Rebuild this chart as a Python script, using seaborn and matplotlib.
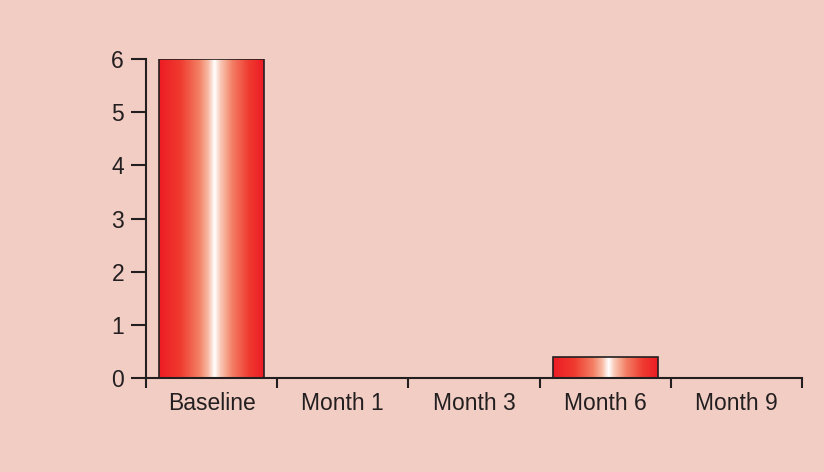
import numpy as np
import pandas as pd
import matplotlib
matplotlib.use("Agg")
import matplotlib.pyplot as plt
import seaborn as sns
from matplotlib.colors import LinearSegmentedColormap
from matplotlib.ticker import FixedLocator

# data
visits = ["Baseline", "Month 1", "Month 3", "Month 6", "Month 9"]
counts = [6, 0, 0, 0.4, 0]
yticks = [0, 1, 2, 3, 4, 5, 6]

bg = "#F2CDC3"
ink = "#231F20"

sns.set_theme(style="white")
plt.rcParams["font.family"] = ["Liberation Sans", "DejaVu Sans"]

df = pd.DataFrame({"visit": visits, "count": counts})

fig = plt.figure(figsize=(8.24, 4.72), dpi=100, facecolor=bg)
ax = fig.add_axes([146 / 824, 94 / 472, 656 / 824, 319 / 472])
ax.set_facecolor(bg)

sns.barplot(data=df, x="visit", y="count", color="#ED1C24", width=0.8,
            edgecolor=ink, linewidth=1.2, saturation=1, ax=ax)

# horizontal red-white-red shading inside each bar
shade = LinearSegmentedColormap.from_list(
    "shade",
    [(0.0, "#ED1C24"), (0.2, "#EF3A2F"), (0.38, "#F37E63"),
     (0.47, "#F8BCA6"), (0.53, "#FFFFFF"), (0.59, "#F9C6B3"),
     (0.7, "#F37E64"), (0.86, "#EF3A30"), (1.0, "#ED1C24")])
grad = np.linspace(0, 1, 256).reshape(1, -1)
for p in ax.patches:
    h = p.get_height()
    if h <= 0:
        continue
    x0 = p.get_x()
    w = p.get_width()
    im = ax.imshow(grad, cmap=shade, aspect="auto",
                   extent=(x0, x0 + w, 0, h), zorder=2.5)
    im.set_clip_path(p)
    p.set_facecolor("none")
    p.set_zorder(3)

ax.set_xlim(-0.5, len(visits) - 0.5)
ax.set_ylim(0, 6)
ax.set_yticks(yticks)
ax.set_xlabel("")
ax.set_ylabel("")

for s in ["top", "right"]:
    ax.spines[s].set_visible(False)
for s in ["left", "bottom"]:
    ax.spines[s].set_color(ink)
    ax.spines[s].set_linewidth(1.5)

ax.xaxis.set_minor_locator(FixedLocator(np.arange(-0.5, len(visits), 1.0)))
ax.tick_params(axis="x", which="major", length=0, pad=10, labelsize=16.5,
               labelcolor=ink)
ax.tick_params(axis="x", which="minor", length=7.2, width=1.5, color=ink,
               direction="out", bottom=True)
ax.tick_params(axis="y", which="major", length=10.8, width=1.5, color=ink,
               direction="out", left=True, pad=5, labelsize=16.5,
               labelcolor=ink)

fig.savefig("out.png", dpi=100, facecolor=bg)
